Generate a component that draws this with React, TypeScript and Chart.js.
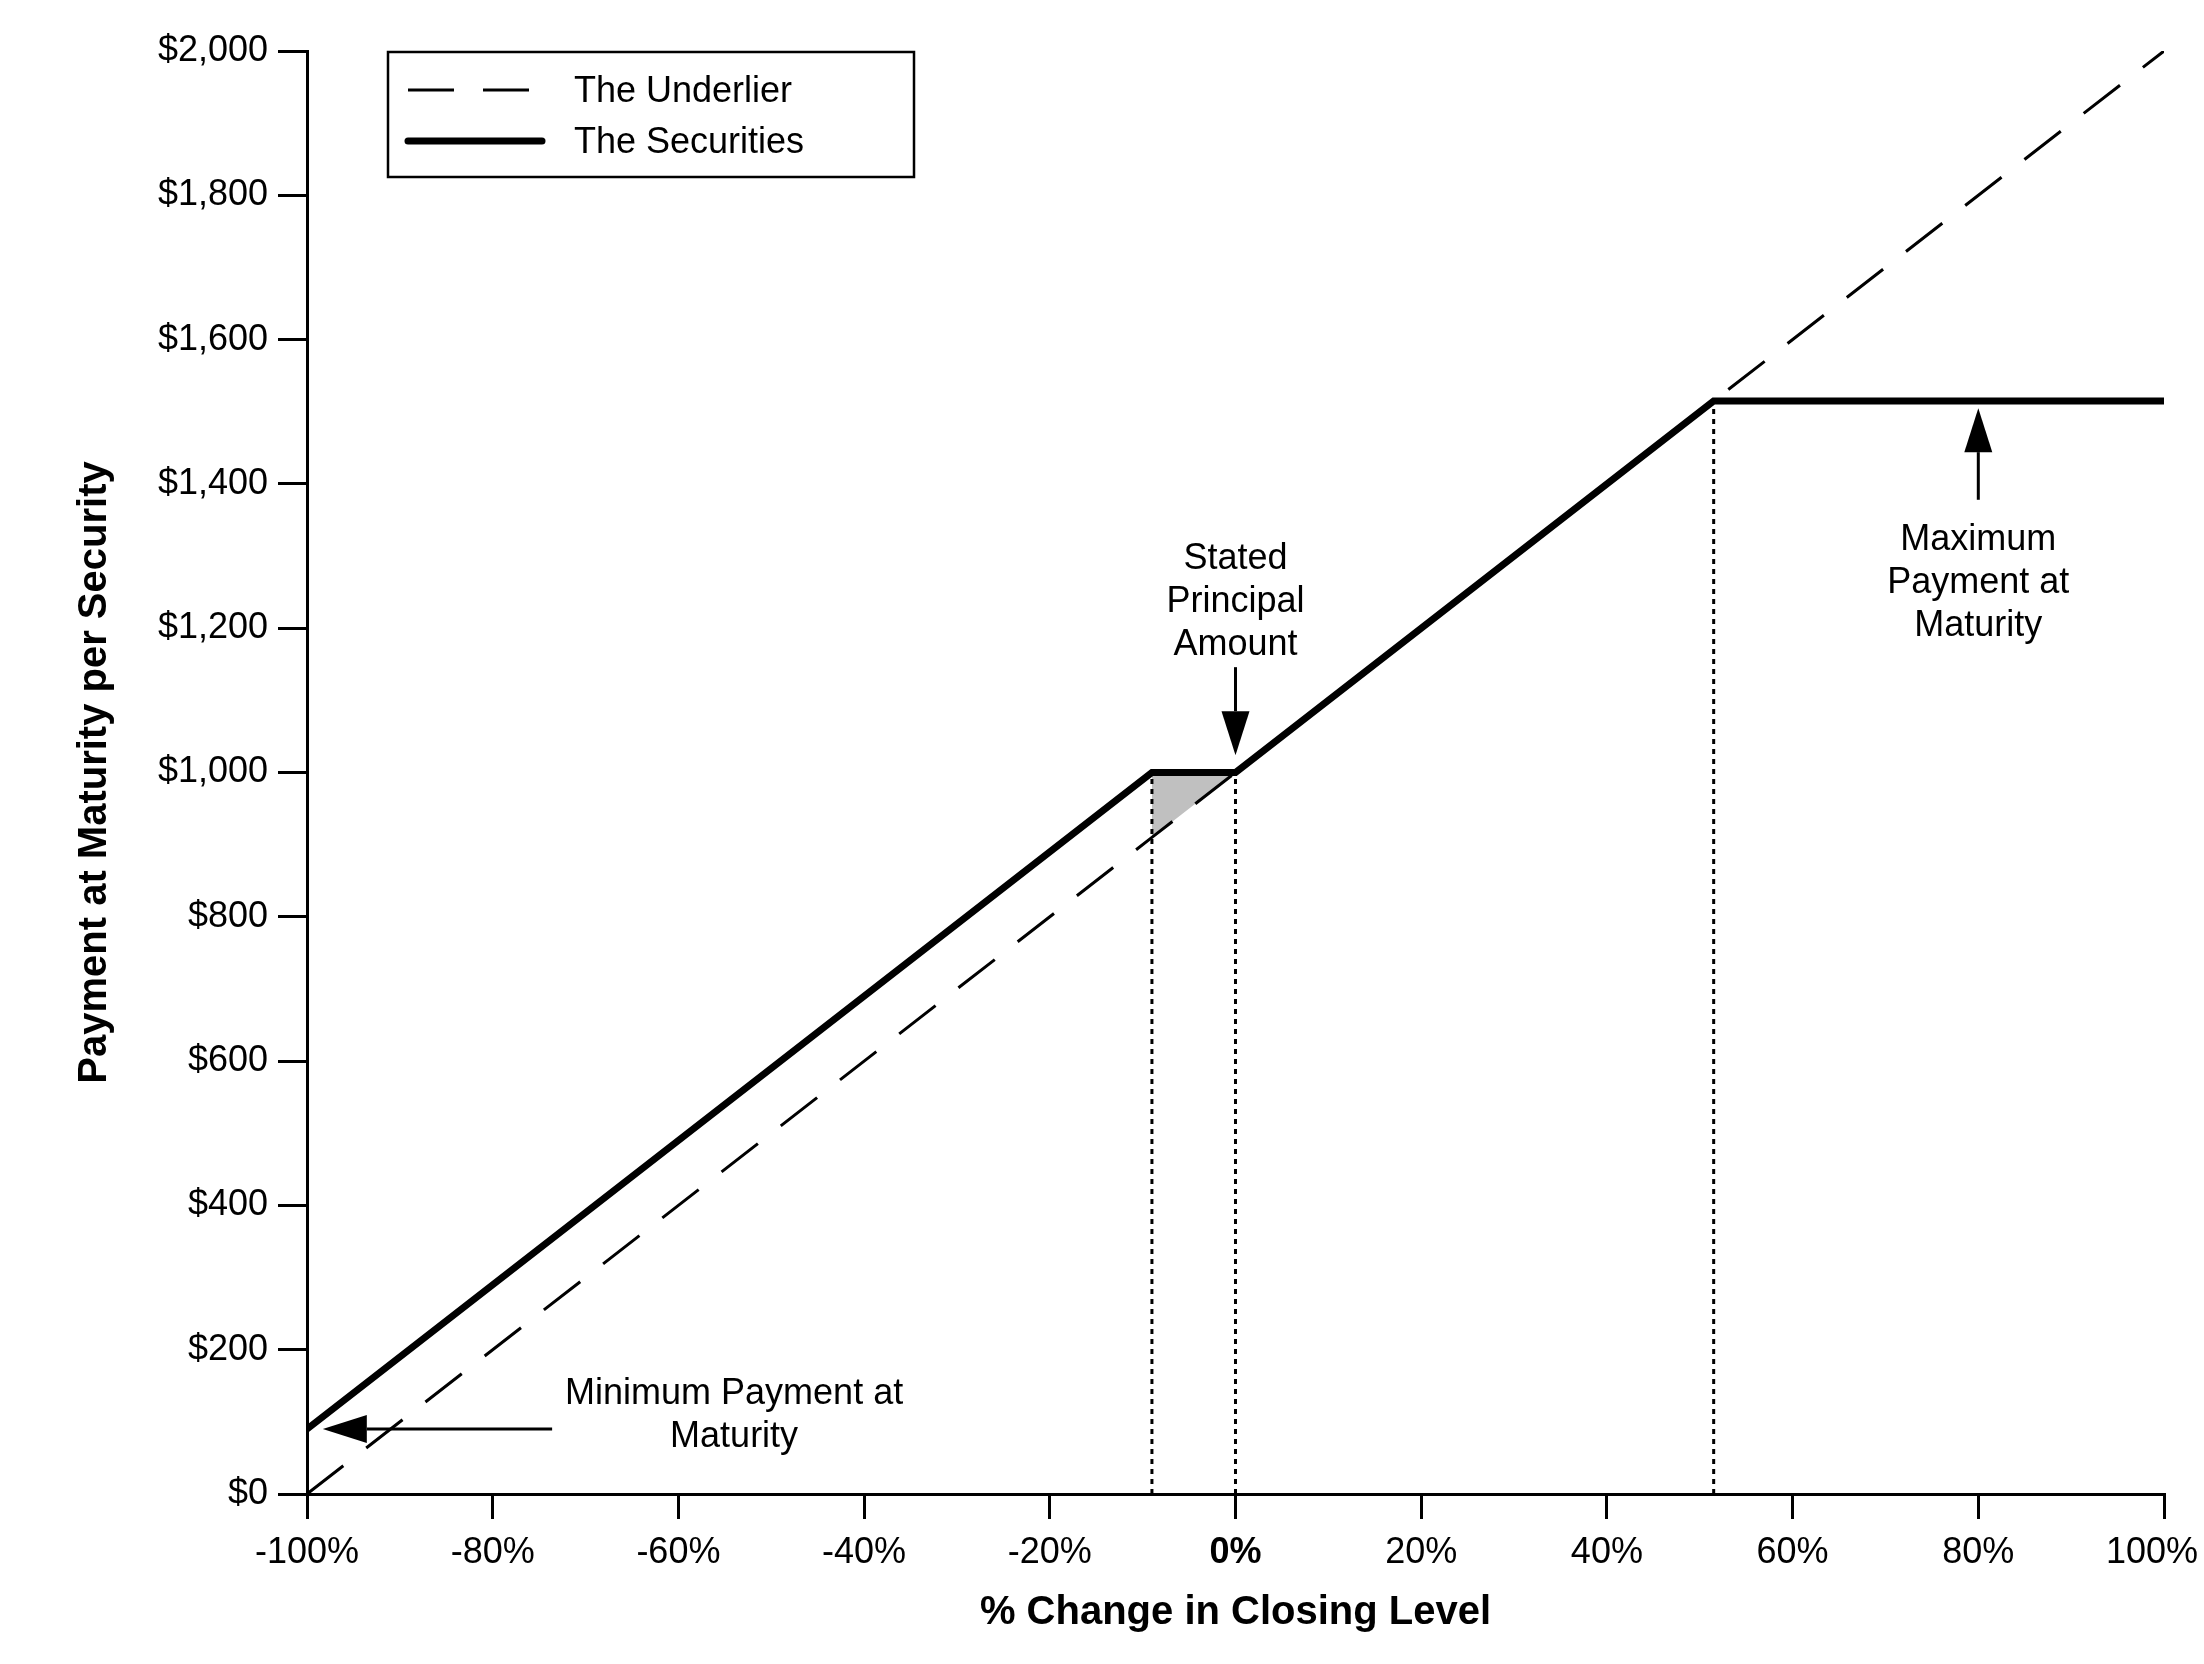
import React, { useEffect, useRef } from "react";
import { Chart, registerables } from "chart.js";

Chart.register(...registerables);

// % change in closing level (x) vs payment at maturity per security (y)
const underlierX = [-100, -9, 0, 100];
const underlierY = [0, 910, 1000, 2000];
const securitiesX = [-100, -9, 0, 51.5, 100];
const securitiesY = [90, 1000, 1000, 1515, 1515];
// grey buffer triangle between the securities and the underlier
const shadeX = [-9, 0];
const shadeY = [1000, 1000];
// dotted drop lines under the kinks of the securities line
const dropX = [-9, 0, 51.5];

const seriesLabels = ["The Underlier", "The Securities"];
const xTicks = [-100, -80, -60, -40, -20, 0, 20, 40, 60, 80, 100];
const yTicks = [0, 200, 400, 600, 800, 1000, 1200, 1400, 1600, 1800, 2000];
const xTitle = "% Change in Closing Level";
const yTitle = "Payment at Maturity per Security";

// callouts, anchored in data units
const notes = [
  { text: ["Stated", "Principal", "Amount"], x: 0, y: 1296, from: [0, 1146], to: [0, 1024] },
  { text: ["Maximum", "Payment at", "Maturity"], x: 80, y: 1322, from: [80, 1378], to: [80, 1505] },
  { text: ["Minimum Payment at", "Maturity"], x: -54, y: 139, from: [-73.6, 90], to: [-98.3, 90] },
];

const FONT = '"Liberation Sans", Arial, sans-serif';

const pts = (xs: number[], ys: number[]) => xs.map((x, i) => ({ x, y: ys[i] }));

const arrow = (ctx: CanvasRenderingContext2D, x1: number, y1: number, x2: number, y2: number) => {
  const head = 44;
  const half = 14;
  const a = Math.atan2(y2 - y1, x2 - x1);
  const bx = x2 - head * Math.cos(a);
  const by = y2 - head * Math.sin(a);
  ctx.beginPath();
  ctx.moveTo(x1, y1);
  ctx.lineTo(bx, by);
  ctx.lineWidth = 3;
  ctx.strokeStyle = "#000";
  ctx.stroke();
  ctx.beginPath();
  ctx.moveTo(x2, y2);
  ctx.lineTo(bx + half * Math.sin(a), by - half * Math.cos(a));
  ctx.lineTo(bx - half * Math.sin(a), by + half * Math.cos(a));
  ctx.closePath();
  ctx.fillStyle = "#000";
  ctx.fill();
};

const calloutPlugin = {
  id: "callouts",
  beforeDraw(chart: any) {
    // keep the last x label inside the canvas, as in the original
    const sx = chart.scales.x;
    const items = sx.getLabelItems();
    const last = items[items.length - 1];
    if (last && last.options.textAlign !== "right") {
      last.options.textAlign = "right";
      last.options.translation[0] = sx.right + 34;
    }
  },
  afterDatasetsDraw(chart: any) {
    const { ctx, scales, chartArea } = chart;
    const x = scales.x;
    const y = scales.y;
    ctx.save();
    ctx.font = `36px ${FONT}`;
    ctx.fillStyle = "#000";
    ctx.textAlign = "center";
    ctx.textBaseline = "middle";
    notes.forEach((n) => {
      const cx = x.getPixelForValue(n.x);
      const cy = y.getPixelForValue(n.y);
      n.text.forEach((t, i) => ctx.fillText(t, cx, cy + i * 43));
      arrow(
        ctx,
        x.getPixelForValue(n.from[0]),
        y.getPixelForValue(n.from[1]),
        x.getPixelForValue(n.to[0]),
        y.getPixelForValue(n.to[1])
      );
    });

    // legend box in the upper left of the plot
    const left = chartArea.left + 81;
    const top = chartArea.top + 1;
    ctx.lineWidth = 2.5;
    ctx.strokeStyle = "#000";
    ctx.strokeRect(left, top, 526, 125);
    ctx.textAlign = "left";
    seriesLabels.forEach((label, i) => {
      const ds = chart.data.datasets[i];
      const ly = top + 38 + i * 51;
      ctx.save();
      ctx.beginPath();
      ctx.setLineDash(ds.borderDash || []);
      ctx.lineCap = ds.borderCapStyle || "butt";
      ctx.lineWidth = ds.borderWidth;
      ctx.moveTo(left + 20, ly);
      ctx.lineTo(left + 154, ly);
      ctx.stroke();
      ctx.restore();
      ctx.fillText(label, left + 186, ly + 2);
    });
    ctx.restore();
  },
};

const App: React.FC = () => {
  const canvasRef = useRef<HTMLCanvasElement | null>(null);
  const chartRef = useRef<Chart | null>(null);

  useEffect(() => {
    document.body.style.margin = "0";
    if (!canvasRef.current) return;
    if (chartRef.current) chartRef.current.destroy();

    const dropSets = dropX.map((dx) => ({
      label: "",
      data: [
        { x: dx, y: 0 },
        { x: dx, y: securitiesY[securitiesX.indexOf(dx)] },
      ],
      borderColor: "#000",
      borderWidth: 3,
      borderDash: [5, 5],
      pointRadius: 0,
      fill: false,
      order: 2,
    }));

    chartRef.current = new Chart(canvasRef.current, {
      type: "line",
      data: {
        datasets: [
          {
            label: seriesLabels[0],
            data: pts(underlierX, underlierY),
            borderColor: "#000",
            borderWidth: 3,
            borderDash: [46, 29],
            pointRadius: 0,
            fill: false,
            order: 1,
          },
          {
            label: seriesLabels[1],
            data: pts(securitiesX, securitiesY),
            borderColor: "#000",
            borderWidth: 7,
            borderCapStyle: "round",
            borderJoinStyle: "miter",
            pointRadius: 0,
            fill: false,
            order: 0,
          },
          {
            label: "",
            data: pts(shadeX, shadeY),
            borderWidth: 0,
            borderColor: "rgba(0,0,0,0)",
            backgroundColor: "#c0c0c0",
            pointRadius: 0,
            fill: { target: 0, above: "#c0c0c0", below: "#c0c0c0" },
            order: 3,
          },
          ...dropSets,
        ] as any,
      },
      options: {
        animation: false,
        responsive: false,
        devicePixelRatio: 1,
        layout: { padding: { left: 0, right: 40, top: 51, bottom: 0 } },
        plugins: {
          legend: { display: false },
          tooltip: { enabled: false },
        },
        scales: {
          x: {
            type: "linear",
            min: -100,
            max: 100,
            afterBuildTicks: (s: any) => {
              s.ticks = xTicks.map((v) => ({ value: v }));
            },
            afterFit: (s: any) => {
              s.height = 170;
              s.paddingLeft = 0;
              s.paddingRight = 0;
            },
            border: { display: true, color: "#000", width: 3 },
            grid: {
              drawOnChartArea: false,
              drawTicks: true,
              tickLength: 25,
              color: "#000",
              lineWidth: 3,
            },
            ticks: {
              color: "#000",
              padding: 12,
              maxRotation: 0,
              autoSkip: false,
              font: (c: any) => ({
                family: FONT,
                size: 36,
                weight: c.tick && c.tick.value === 0 ? "bold" : "normal",
              }),
              callback: (v: any) => `${v}%`,
            },
            title: {
              display: true,
              text: xTitle,
              color: "#000",
              font: { family: FONT, size: 40, weight: "bold" },
              padding: { top: 0, bottom: 27 },
            },
          },
          y: {
            type: "linear",
            min: 0,
            max: 2000,
            afterBuildTicks: (s: any) => {
              s.ticks = yTicks.map((v) => ({ value: v }));
            },
            afterFit: (s: any) => {
              s.width = 307;
            },
            border: { display: true, color: "#000", width: 3 },
            grid: {
              drawOnChartArea: false,
              drawTicks: true,
              tickLength: 29,
              color: "#000",
              lineWidth: 3,
            },
            ticks: {
              color: "#000",
              padding: 10,
              autoSkip: false,
              font: { family: FONT, size: 36 },
              callback: (v: any) => "$" + Number(v).toLocaleString("en-US"),
            },
            title: {
              display: true,
              text: yTitle,
              color: "#000",
              font: { family: FONT, size: 40, weight: "bold" },
              padding: { top: 71, bottom: 0 },
            },
          },
        },
      } as any,
      plugins: [calloutPlugin],
    });

    return () => {
      if (chartRef.current) {
        chartRef.current.destroy();
        chartRef.current = null;
      }
    };
  }, []);

  return (
    <div style={{ width: 2204, height: 1664, background: "#fff" }}>
      <canvas ref={canvasRef} width={2204} height={1664} />
    </div>
  );
};

export default App;
